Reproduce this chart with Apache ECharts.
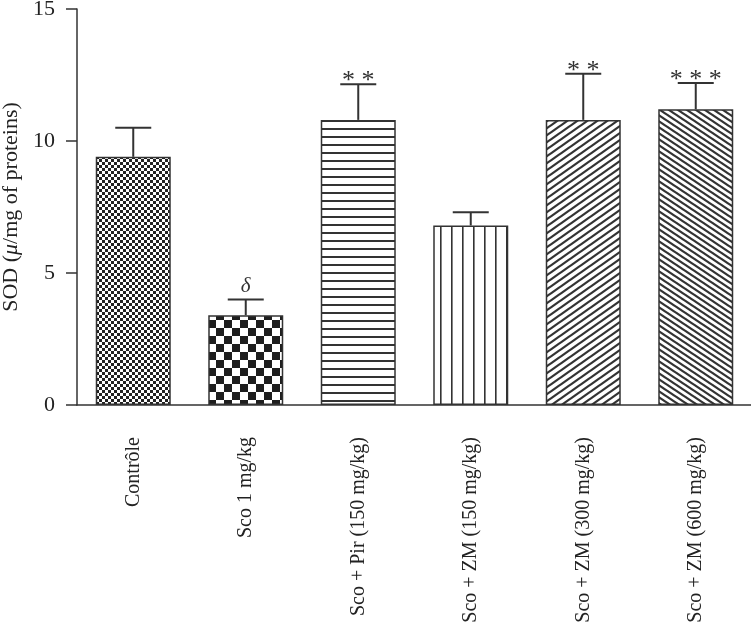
<!DOCTYPE html>
<html><head><meta charset="utf-8">
<script src="https://cdn.jsdelivr.net/npm/echarts@6/dist/echarts.min.js"></script>
<style>html,body{margin:0;padding:0;background:#fff}#c{width:751px;height:629px}</style>
</head><body><div id="c"></div>
<script>
const categories = ['Contrôle','Sco 1 mg/kg','Sco + Pir (150 mg/kg)','Sco + ZM (150 mg/kg)','Sco + ZM (300 mg/kg)','Sco + ZM (600 mg/kg)'];
const means = [9.4, 3.4, 10.8, 6.8, 10.8, 11.2];
const errors = [1.1, 0.6, 1.35, 0.5, 1.75, 1.0];
const marks = ['', 'δ', '* *', '', '* *', '* * *'];

const FONT = 'Liberation Serif';
const INK = '#333';

function tile(w, h, draw) {
  const c = document.createElement('canvas');
  c.width = w; c.height = h;
  const g = c.getContext('2d');
  g.fillStyle = '#fff'; g.fillRect(0, 0, w, h);
  draw(g, w, h);
  return { image: c, repeat: 'repeat' };
}
function checker(s, col) {
  return tile(2 * s, 2 * s, (g) => { g.fillStyle = col; g.fillRect(0, 0, s, s); g.fillRect(s, s, s, s); });
}
function hlines(h, lw) {
  return tile(4, h, (g, w) => { g.fillStyle = INK; g.fillRect(0, 0, w, lw); });
}
function vlines(w, lw) {
  return tile(w, 4, (g, ww, h) => { g.fillStyle = INK; g.fillRect(0, 0, lw, h); });
}
function diag(w, h, lw, dir) {
  return tile(w, h, (g) => {
    g.strokeStyle = INK; g.lineWidth = lw;
    if (dir < 0) { g.translate(w, 0); g.scale(-1, 1); }
    for (const k of [-1, 0, 1]) {
      g.beginPath();
      g.moveTo(-w, 2 * h + k * h);
      g.lineTo(2 * w, -h + k * h);
      g.stroke();
    }
  });
}
const patterns = [
  checker(3, '#222'),
  checker(8, '#1e1e1e'),
  hlines(8, 2),
  vlines(11, 1.6),
  diag(10, 7, 2.2, 1),
  diag(9, 6, 2.2, -1)
];

const chart = echarts.init(document.getElementById('c'), null, { renderer: 'canvas' });
chart.setOption({
  animation: false,
  backgroundColor: '#fff',
  grid: { left: 77, top: 9, width: 675, height: 396, containLabel: false, outerBoundsMode: 'none' },
  xAxis: {
    type: 'category',
    data: categories,
    axisLine: { lineStyle: { color: INK, width: 1.5 } },
    axisTick: { alignWithLabel: true, length: 11, lineStyle: { color: INK, width: 1.5 } },
    axisLabel: { rotate: 90, margin: 32, fontFamily: FONT, fontSize: 20, color: '#222', interval: 0 }
  },
  yAxis: {
    type: 'value', min: 0, max: 15, interval: 5,
    name: '{n|SOD (}{i|μ}{n|/mg of proteins)}',
    nameLocation: 'middle', nameGap: 46, nameRotate: 90,
    nameTextStyle: {
      rich: {
        n: { fontFamily: FONT, fontSize: 22, color: '#222' },
        i: { fontFamily: FONT, fontSize: 22, fontStyle: 'italic', color: '#222' }
      }
    },
    axisLine: { show: true, lineStyle: { color: INK, width: 1.5 } },
    axisTick: { show: true, length: 11, lineStyle: { color: INK, width: 1.5 } },
    axisLabel: { margin: 22, fontFamily: FONT, fontSize: 22, color: '#222' },
    splitLine: { show: false }
  },
  series: [
    {
      type: 'bar',
      barWidth: 75,
      data: means.map((v, i) => ({ value: v, itemStyle: { color: patterns[i], borderColor: INK, borderWidth: 1.5 } })),
      z: 2
    },
    {
      type: 'custom',
      z: 3,
      data: means.map((v, i) => [i, v, v + errors[i]]),
      renderItem: function (params, api) {
        const i = api.value(0);
        const p0 = api.coord([i, api.value(1)]);
        const p1 = api.coord([i, api.value(2)]);
        const hw = 18;
        const children = [
          { type: 'line', shape: { x1: p0[0], y1: p0[1], x2: p1[0], y2: p1[1] }, style: { stroke: INK, lineWidth: 2 } },
          { type: 'line', shape: { x1: p1[0] - hw, y1: p1[1], x2: p1[0] + hw, y2: p1[1] }, style: { stroke: INK, lineWidth: 2 } }
        ];
        const m = marks[params.dataIndex];
        if (m) {
          const isDelta = m === 'δ';
          children.push({
            type: 'text',
            style: {
              text: m, x: p1[0], y: p1[1] - (isDelta ? 13 : 3),
              align: 'center', verticalAlign: 'middle',
              font: isDelta ? 'italic 21px "' + FONT + '"' : '26px "' + FONT + '"',
              fill: '#333'
            }
          });
        }
        return { type: 'group', children: children };
      }
    }
  ]
});
</script>
</body></html>
